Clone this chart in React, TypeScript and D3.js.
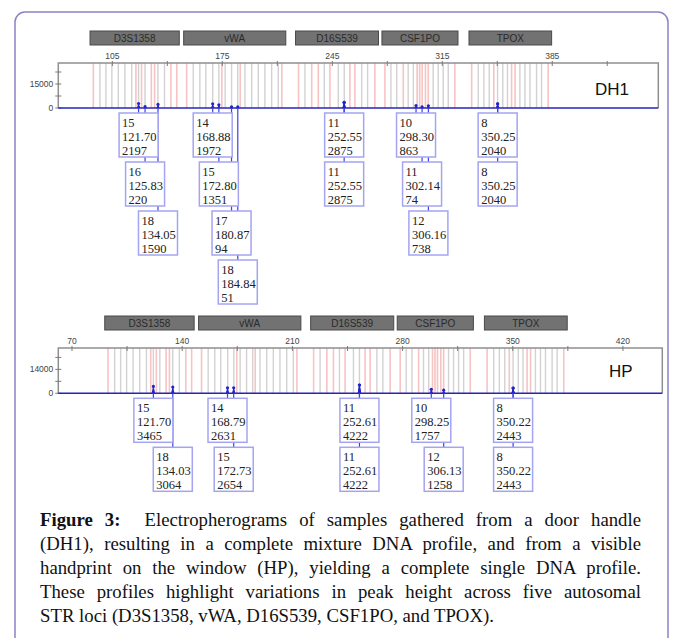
import { useEffect, useRef } from "react";
import * as d3 from "d3";

// STR loci and their size windows (bp)
const loci = ["D3S1358", "vWA", "D16S539", "CSF1PO", "TPOX"];
const lociStart = [90.8, 150.4, 221.6, 276.6, 332.0];
const lociEnd = [147.6, 215.4, 274.4, 325.0, 384.6];

// ladder bins (bp): grey = ladder alleles, pink = virtual bins
const greyBins = [
  97.1, 100.9, 104.7, 108.8, 113.0, 117.3, 121.7, 125.8, 134.0, 138.2,
  156.5, 160.7, 164.5, 168.9, 172.8, 176.8, 180.9, 184.8, 189.4, 193.7, 197.9, 202.1, 206.4, 210.6,
  227.6, 239.9, 248.8, 252.6, 263.7, 267.5,
  282.3, 286.0, 293.3, 296.6, 309.2, 312.4, 315.6, 318.8,
  337.9, 341.5, 344.9, 350.2, 353.5, 356.5, 364.4, 367.6, 370.8, 375.0, 378.2,
];
const pinkBins = [
  92.9, 120.0, 123.6, 129.8, 131.9, 142.3, 146.0,
  152.3, 174.7, 186.4, 212.9,
  223.5, 231.9, 236.1, 243.5, 256.2, 259.4, 272.1,
  278.5, 290.2, 299.0, 300.6, 302.2, 304.3, 306.1, 323.0,
  333.7, 347.8, 359.1, 361.3, 382.4,
];

// DH1 - door handle, mixture profile
const dh1Allele = ["15", "16", "18", "14", "15", "17", "18", "11", "11", "10", "11", "12", "8", "8"];
const dh1Size = [121.70, 125.83, 134.05, 168.88, 172.80, 180.87, 184.84, 252.55, 252.55, 298.30, 302.14, 306.16, 350.25, 350.25];
const dh1Height = [2197, 220, 1590, 1972, 1351, 94, 51, 2875, 2875, 863, 74, 738, 2040, 2040];

// HP - handprint on window, single profile
const hpAllele = ["15", "18", "14", "15", "11", "11", "10", "12", "8", "8"];
const hpSize = [121.70, 134.03, 168.79, 172.73, 252.61, 252.61, 298.25, 306.13, 350.22, 350.22];
const hpHeight = [3465, 3064, 2631, 2654, 4222, 4222, 1757, 1258, 2443, 2443];

const captionLines = [
  "Electropherograms of samples gathered from a door handle",
  "(DH1), resulting in a complete mixture DNA profile, and from a visible",
  "handprint on the window (HP), yielding a complete single DNA profile.",
  "These profiles highlight variations in peak height across five autosomal",
  "STR loci (D3S1358, vWA, D16S539, CSF1PO, and TPOX).",
];

const W = 681;
const H = 638;
const capLeft = 40;
const capRight = 641;

type PanelProps = {
  name: string;
  nameX: number;
  nameY: number;
  top: number;
  base: number;
  left: number;
  right: number;
  xDomain: [number, number];
  yMax: number;
  yLabel: number;
  tickStart: number;
  allele: string[];
  size: number[];
  height: number[];
};

const sans = "Arial, 'Liberation Sans', sans-serif";
const serif = "'Liberation Serif', 'Times New Roman', serif";

function Panel(p: PanelProps) {
  const x = d3.scaleLinear().domain(p.xDomain).range([p.left, p.right]);
  const y = d3.scaleLinear().domain([0, p.yMax]).range([p.base, p.top]);

  const xTicks = d3.range(p.tickStart, p.xDomain[1], 35);
  const yTicks = d3.range(0, p.yMax, p.yLabel / 2);

  const locusOf = (s: number) => lociStart.findIndex((a, i) => s >= a && s <= lociEnd[i]);
  const rows = p.size.map((s, i) => p.size.slice(0, i).filter((t) => locusOf(t) === locusOf(s)).length);

  const peak = d3
    .line<[number, number]>()
    .x((d) => x(d[0]))
    .y((d) => y(d[1]));

  const boxW = 39;
  const boxH = 44;
  const rowGap = 49;
  const boxTop = (r: number) => p.base + 5 + r * rowGap;

  return (
    <g>
      {greyBins.map((b, i) => (
        <line key={"g" + i} x1={x(b)} x2={x(b)} y1={p.top} y2={p.base} stroke="#d2d2d2" strokeWidth={1.4} />
      ))}
      {pinkBins.map((b, i) => (
        <line key={"p" + i} x1={x(b)} x2={x(b)} y1={p.top} y2={p.base} stroke="#f7c3c3" strokeWidth={1.6} />
      ))}

      {/* frame */}
      <path
        d={`M${p.left},${p.base}V${p.top}H${p.right}V${p.base}`}
        fill="none"
        stroke="#8f8f8f"
        strokeWidth={1.5}
      />
      {xTicks.map((t) => (
        <line key={"xt" + t} x1={x(t)} x2={x(t)} y1={p.top - 2} y2={p.top + 3} stroke="#7a7a7a" strokeWidth={1} />
      ))}
      {xTicks
        .filter((t) => (t - p.tickStart) % 70 === 0)
        .map((t) => (
          <text key={"xl" + t} x={x(t)} y={p.top - 4.5} textAnchor="middle" fontFamily={sans} fontSize={8.5} fill="#444">
            {t}
          </text>
        ))}
      {yTicks.map((t) => (
        <line key={"yt" + t} x1={p.left - 3} x2={p.left + 3} y1={y(t)} y2={y(t)} stroke="#7a7a7a" strokeWidth={1} />
      ))}
      {[0, p.yLabel].map((t) => (
        <text key={"yl" + t} x={p.left - 5} y={y(t) + 3} textAnchor="end" fontFamily={sans} fontSize={8.5} fill="#444">
          {t}
        </text>
      ))}

      {/* locus bars */}
      {loci.map((l, i) => (
        <g key={l}>
          <rect
            x={x(lociStart[i])}
            y={p.top - 32}
            width={x(lociEnd[i]) - x(lociStart[i])}
            height={14}
            fill="#727272"
            stroke="#4a4a4a"
            strokeWidth={1}
          />
          <text
            x={(x(lociStart[i]) + x(lociEnd[i])) / 2}
            y={p.top - 21.5}
            textAnchor="middle"
            fontFamily={sans}
            fontSize={10}
            fill="#2a2a2a"
          >
            {l}
          </text>
        </g>
      ))}

      <text x={p.nameX} y={p.nameY} fontFamily={sans} fontSize={17} fill="#111">
        {p.name}
      </text>

      {/* trace */}
      <line x1={p.left} x2={p.right} y1={p.base} y2={p.base} stroke="#2424b8" strokeWidth={1.6} />
      {p.size.map((s, i) => (
        <g key={"pk" + i}>
          <path
            d={peak([
              [s - 0.8, 0],
              [s, p.height[i]],
              [s + 0.8, 0],
            ]) || ""}
            fill="#2424c8"
            stroke="#2424c8"
            strokeWidth={1}
          />
          <circle cx={x(s)} cy={y(p.height[i]) - 1} r={1.6} fill="#2424c8" />
        </g>
      ))}

      {/* label connectors */}
      {p.size.map((s, i) => (
        <line key={"c" + i} x1={x(s)} x2={x(s)} y1={p.base} y2={boxTop(rows[i])} stroke="#4040e0" strokeWidth={1.2} />
      ))}

      {/* allele call boxes */}
      {p.size.map((s, i) => {
        const bx = x(s) - boxW / 2;
        const by = boxTop(rows[i]);
        return (
          <g key={"b" + i}>
            <rect x={bx} y={by} width={boxW} height={boxH} fill="#fff" stroke="#a4a4f2" strokeWidth={1.5} />
            {[p.allele[i], s.toFixed(2), String(p.height[i])].map((t, k) => (
              <text key={k} x={bx + 3} y={by + 14 + k * 14} fontFamily={serif} fontSize={12.5} fill="#222">
                {t}
              </text>
            ))}
          </g>
        );
      })}
    </g>
  );
}

export default function App() {
  const capRef = useRef<SVGGElement>(null);

  useEffect(() => {
    const justify = () => {
      d3.select(capRef.current)
        .selectAll<SVGTextElement, unknown>("text.just")
        .each(function () {
          const spaces = (this.textContent || "").split(" ").length - 1;
          d3.select(this).attr("word-spacing", 0);
          const w = this.getComputedTextLength();
          d3.select(this).attr("word-spacing", (capRight - capLeft - w) / spaces);
        });
    };
    justify();
    if (document.fonts) document.fonts.ready.then(justify);
  }, []);

  return (
    <svg width={W} height={H} style={{ position: "absolute", left: 0, top: 0, background: "#fff" }}>
      <rect x={15} y={12} width={653} height={H + 20} rx={10} fill="#fff" stroke="#8a83c6" strokeWidth={1.5} />

      <Panel
        name="DH1"
        nameX={595}
        nameY={95}
        top={63}
        base={108}
        left={58.3}
        right={658.3}
        xDomain={[70.6, 452.5]}
        yMax={28125}
        yLabel={15000}
        tickStart={105}
        allele={dh1Allele}
        size={dh1Size}
        height={dh1Height}
      />
      <Panel
        name="HP"
        nameX={609}
        nameY={377}
        top={348}
        base={393.3}
        left={58.3}
        right={662.3}
        xDomain={[61.3, 445]}
        yMax={26500}
        yLabel={14000}
        tickStart={70}
        allele={hpAllele}
        size={hpSize}
        height={hpHeight}
      />

      <g ref={capRef} fontFamily={serif} fontSize={18.75} fill="#111">
        {captionLines.map((l, i) => (
          <text
            key={i}
            className={i < 4 ? "just" : ""}
            x={capLeft}
            y={526 + i * 24}
            style={{ whiteSpace: "pre" }}
          >
            {i === 0 ? (
              <>
                <tspan fontWeight="bold">Figure 3:</tspan>
                {"  " + l}
              </>
            ) : (
              l
            )}
          </text>
        ))}
      </g>
    </svg>
  );
}
